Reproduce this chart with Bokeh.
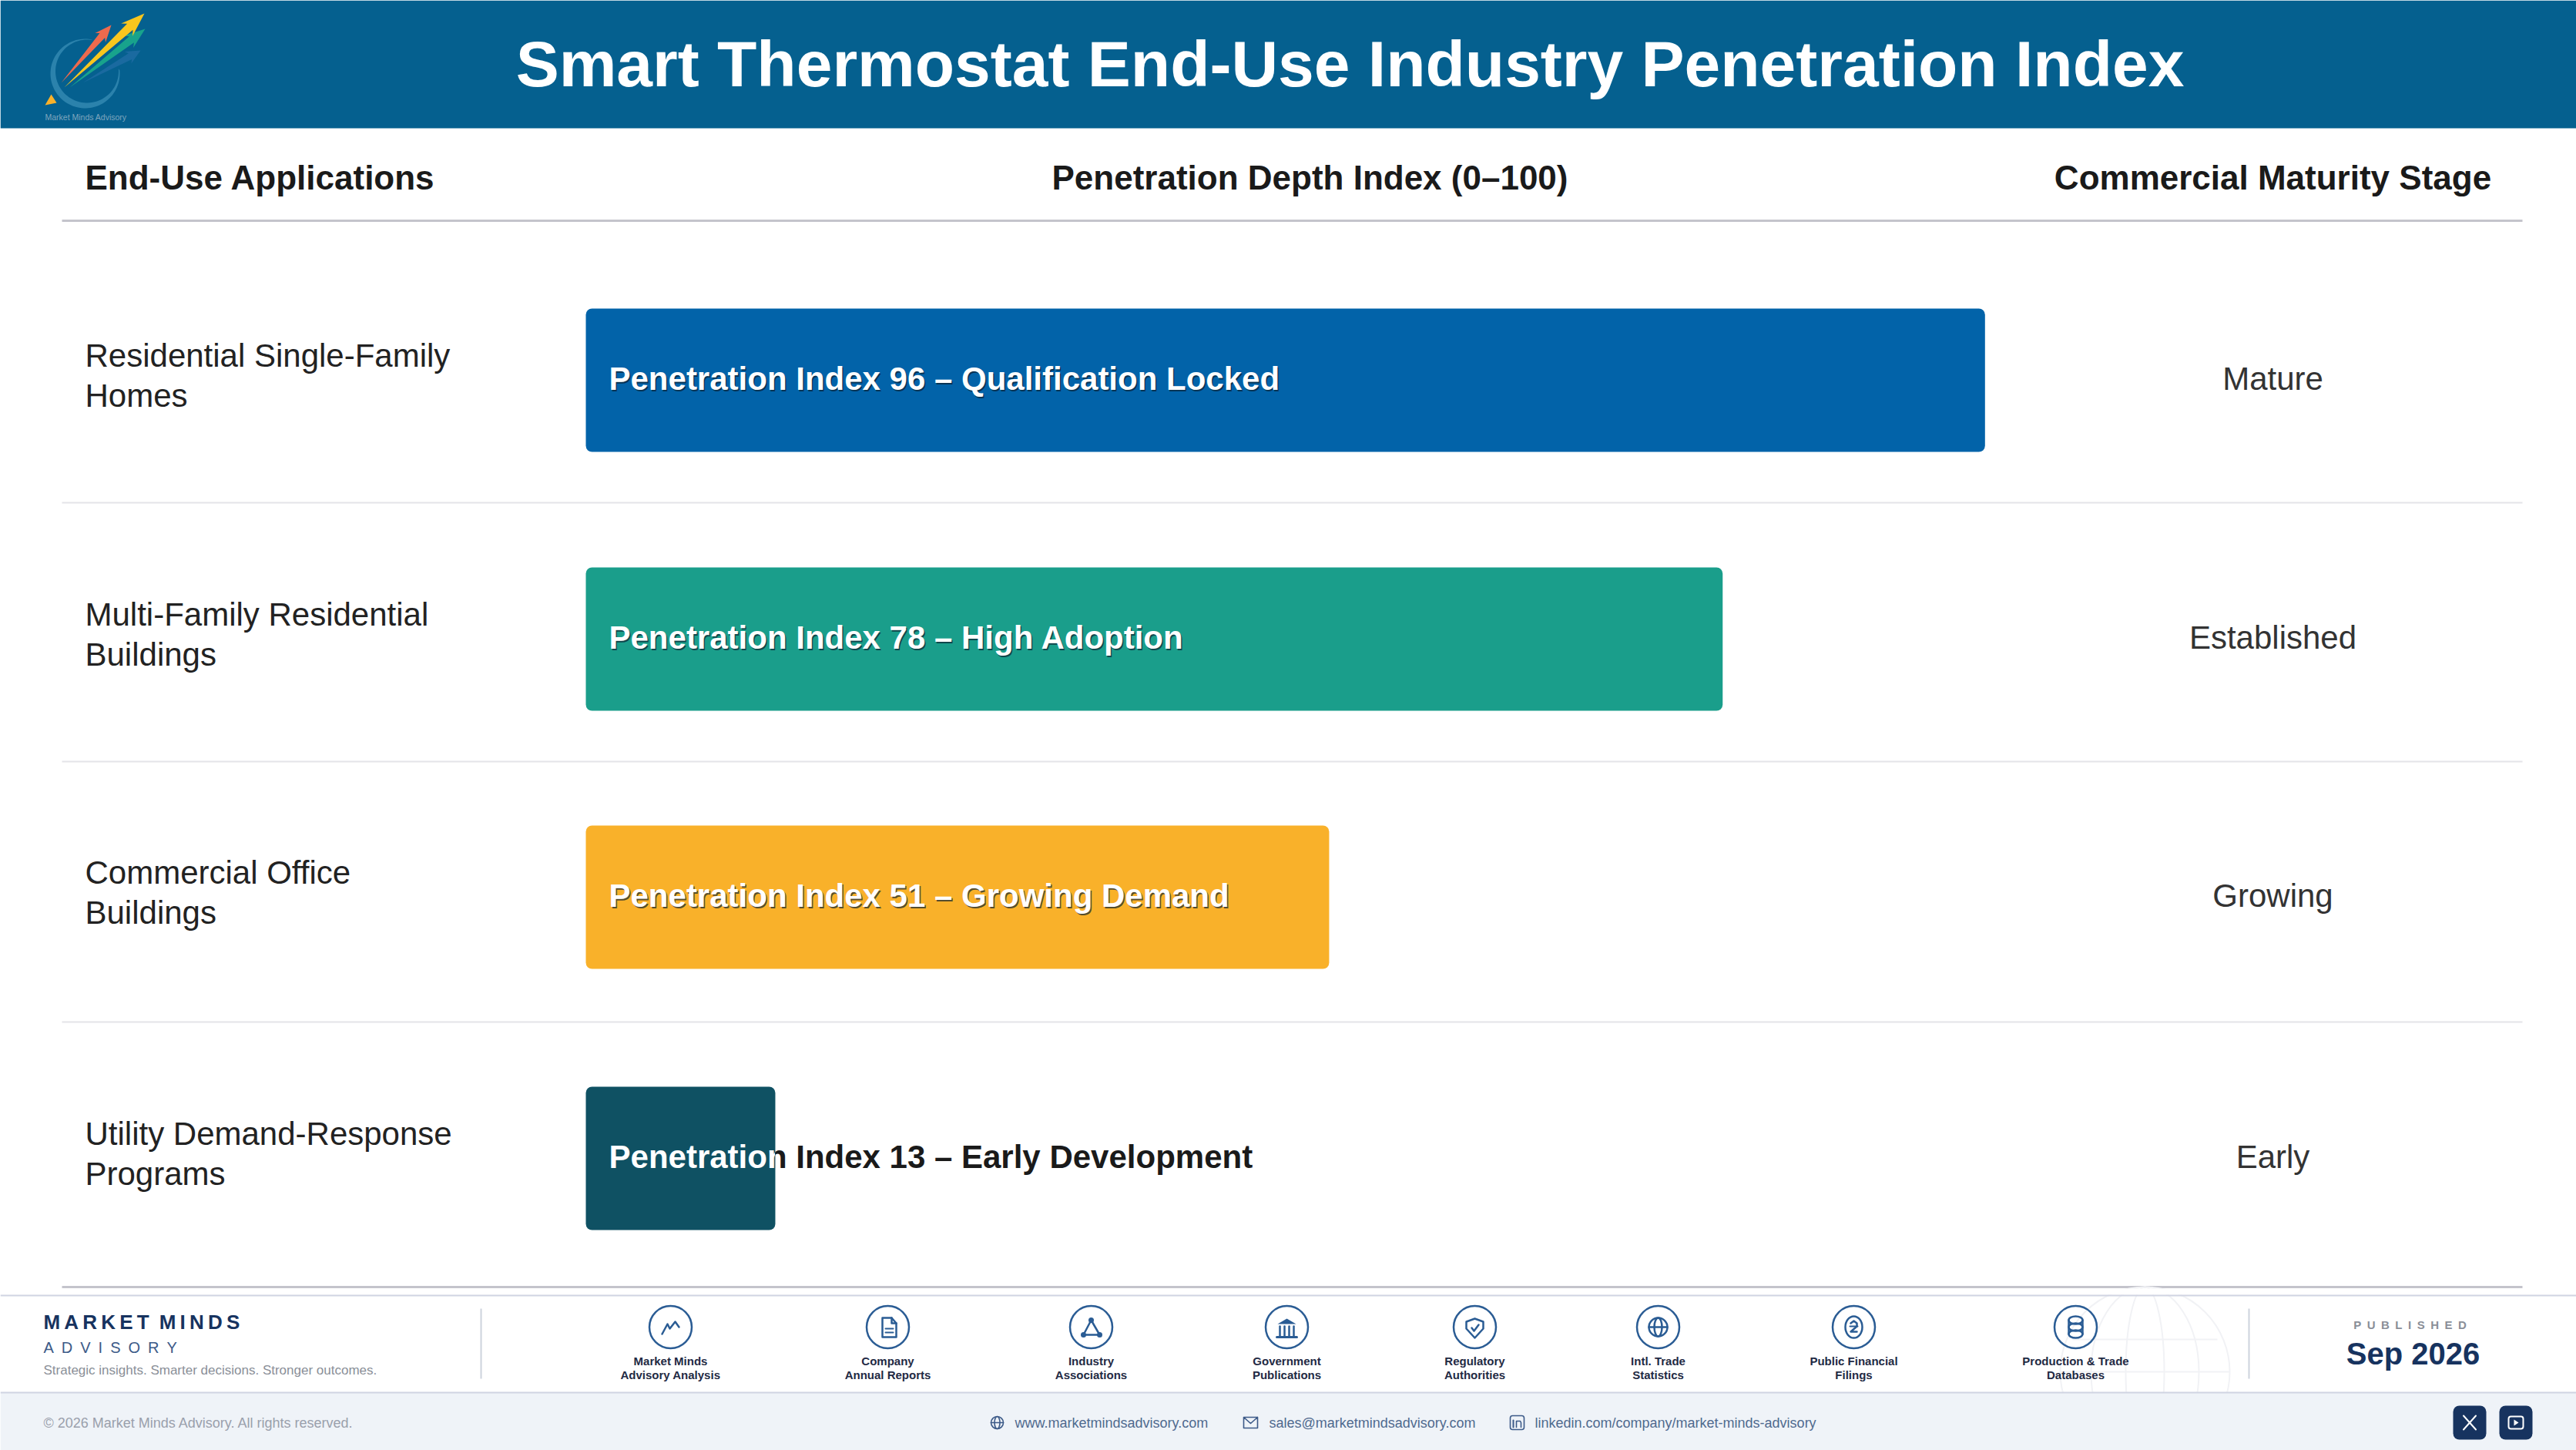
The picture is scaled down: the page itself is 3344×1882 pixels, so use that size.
import numpy as np
from bokeh.core.properties import value
from bokeh.embed import file_html
from bokeh.layouts import column
from bokeh.models import Range1d
from bokeh.plotting import figure
from bokeh.resources import INLINE

W, H = 3344, 1882

# chart values
applications = [["Residential Single-Family", "Homes"], ["Multi-Family Residential", "Buildings"],
                ["Commercial Office", "Buildings"], ["Utility Demand-Response", "Programs"]]
index_values = [96, 78, 51, 13]
index_notes = ["Qualification Locked", "High Adoption", "Growing Demand", "Early Development"]
stages = ["Mature", "Established", "Growing", "Early"]
bar_colors = ["#0263A9", "#1A9E8B", "#F9B12A", "#0F5163"]
columns_titles = ["End-Use Applications", "Penetration Depth Index (0–100)", "Commercial Maturity Stage"]
sources = [["Market Minds", "Advisory Analysis"], ["Company", "Annual Reports"], ["Industry", "Associations"],
           ["Government", "Publications"], ["Regulatory", "Authorities"], ["Intl. Trade", "Statistics"],
           ["Public Financial", "Filings"], ["Production & Trade", "Databases"]]
contacts = ["www.marketmindsadvisory.com", "sales@marketmindsadvisory.com", "linkedin.com/company/market-minds-advisory"]

FONT = value("Liberation Sans")
NAVY = "#17335F"
ICON = "#2A5C94"

# the index axis: 0 sits at the left of the bars, 18.92 page px per index point
X0, PX = 760, 18.92
row_y = [493, 829, 1164, 1503]
bar_h = 186

p = figure(width=W, height=H, x_range=Range1d(0, W), y_range=Range1d(H, 0), output_backend="svg",
           toolbar_location=None, min_border=0, outline_line_color=None, x_axis_location=None, y_axis_location=None)
p.grid.visible = False
p.extra_x_ranges["index"] = Range1d(-X0 / PX, (W - X0) / PX)


def txt(x, y, s, size, color="#222222", bold=False, align="left", fig=None, alpha=1.0):
    (fig or p).text([x], [y], text=[s], text_font=FONT, text_font_size=f"{size}px", text_color=color,
                    text_alpha=alpha, text_font_style="bold" if bold else "normal", text_align=align,
                    text_baseline="middle")


def hline(x0, x1, y, color, width):
    p.line([x0, x1], [y, y], line_color=color, line_width=width)


def path(cx, cy, pts, width=2.5, color=ICON):
    p.line([cx + a for a, _ in pts], [cy + b for _, b in pts], line_color=color, line_width=width,
           line_join="round", line_cap="round")


def oval(cx, cy, rx, ry, width=2.5, color=ICON):
    p.ellipse([cx], [cy], width=2 * rx, height=2 * ry, fill_color=None, line_color=color, line_width=width)


def arrow(tail, tip, w, color):
    t, h = np.array(tail, float), np.array(tip, float)
    u = h - t
    v = np.array([-u[1], u[0]]) / np.hypot(*u)
    pts = [t, t + .82 * u + v * w * .5, t + .78 * u + v * w, h, t + .78 * u - v * w, t + .82 * u - v * w * .5]
    p.patch([q[0] for q in pts], [q[1] for q in pts], fill_color=color, line_color=None)


# header band and logo
p.quad(left=0, right=W, top=0, bottom=166, fill_color="#05608F", line_color=None)
a = np.radians(np.linspace(80, 365, 80))
b = a[::-1]
p.patch(list(110 + 45 * np.cos(a)) + list(112.5 + 41 * np.cos(b)), list(95 - 45 * np.sin(a)) + list(92 - 41 * np.sin(b)),
        fill_color="#2B82AC", line_color=None)
arrow((107, 107), (182, 65), 9, "#1A6AA0")
arrow((90, 113), (188, 37), 10, "#18A38C")
arrow((79, 107), (144, 32), 9, "#EE6A4D")
arrow((83, 113), (187, 17), 11, "#F8C61E")
p.patch([58, 73, 66], [136, 133, 122], fill_color="#F9B12A", line_color=None)
txt(58, 151, "Market Minds Advisory", 10.5, color="#7FA6BE")
txt(1752, 82, "Smart Thermostat End-Use Industry Penetration Index", 84, color="#FFFFFF", bold=True, align="center")

# column heads and rules
txt(110, 230, columns_titles[0], 44, bold=True, color="#1A1A1A")
txt(1700, 230, columns_titles[1], 44, bold=True, color="#1A1A1A", align="center")
txt(2950, 230, columns_titles[2], 44, bold=True, color="#1A1A1A", align="center")
hline(80, 3274, 286, "#C4C4CC", 3)
for y in [652, 988, 1326]:
    hline(80, 3274, y, "#E4E4E8", 2)
hline(80, 3274, 1670, "#C4C4CC", 3)

# dark label sits under the bar, so only what runs past the bar stays dark
for y, v, note in zip(row_y, index_values, index_notes):
    if v < 30:
        txt(790, y - 2, f"Penetration Index {v} – {note}", 42, bold=True, color="#1A1A1A")

p.quad(left=[0] * 4, right=index_values, top=[y - bar_h / 2 for y in row_y], bottom=[y + bar_h / 2 for y in row_y],
       fill_color=bar_colors, line_color=None, border_radius=8, x_range_name="index")

for y, app, v, note, stage in zip(row_y, applications, index_values, index_notes, stages):
    txt(110, y - 32, app[0], 42)
    txt(110, y + 20, app[1], 42)
    txt(2950, y - 2, stage, 42, align="center", color="#333333")
    if v >= 30:
        txt(791.5, y - .5, f"Penetration Index {v} – {note}", 42, bold=True, color="#0B2030", alpha=.7)
        txt(790, y - 2, f"Penetration Index {v} – {note}", 42, bold=True, color="#FFFFFF")

# white part of the short bar's label, clipped to the bar by a small figure of its own
short = index_values.index(min(index_values))
short_right = X0 + index_values[short] * PX
clip = figure(width=round(short_right - X0), height=bar_h, x_range=Range1d(X0, short_right),
              y_range=Range1d(row_y[short] + bar_h / 2, row_y[short] - bar_h / 2), output_backend="svg",
              toolbar_location=None, min_border=0, outline_line_color=None, x_axis_location=None,
              y_axis_location=None, background_fill_color=None, border_fill_color=None)
clip.grid.visible = False
clip.styles = {"position": "absolute", "left": f"{X0}px", "top": f"{row_y[short] - bar_h // 2}px"}
txt(790, row_y[short] - 2, f"Penetration Index {index_values[short]} – {index_notes[short]}", 42, bold=True,
    color="#FFFFFF", fig=clip)

# footer
for r, ry in [(110, 110), (70, 110), (25, 110)]:
    oval(2784, 1780, r, ry, width=2, color="#F1F2F5")
hline(2674, 2894, 1780, "#F1F2F5", 2)
hline(2690, 2878, 1738, "#F1F2F5", 2)
p.quad(left=0, right=W, top=1807, bottom=H, fill_color="#EFF3F8", line_color=None)
p.quad(left=0, right=W, top=1672, bottom=1680, fill_color="#FFFFFF", line_color=None)
hline(0, W, 1681, "#D0D4E2", 2)
hline(0, W, 1807, "#D0D4E2", 2)
for x in [624, 2919]:
    p.line([x, x], [1698, 1789], line_color="#CDD3DC", line_width=2)

txt(56, 1715, "M\u2009A\u2009R\u2009K\u2009E\u2009T\u2002M\u2009I\u2009N\u2009D\u2009S", 26, color=NAVY, bold=True)
txt(56, 1748, "A\u2002D\u2002V\u2002I\u2002S\u2002O\u2002R\u2002Y", 20, color="#3C5A88")
txt(56, 1778, "Strategic insights. Smarter decisions. Stronger outcomes.", 17, color="#8A8F98")
txt(56, 1846, "© 2026 Market Minds Advisory. All rights reserved.", 18, color="#9AA0AC")
txt(3128, 1719, "P\u2002U\u2002B\u2002L\u2002I\u2002S\u2002H\u2002E\u2002D", 15, color="#8A8F98", bold=True, align="center")
txt(3132, 1756, "Sep 2026", 40, color=NAVY, bold=True, align="center")

icon_x = [870, 1152, 1416, 1670, 1914, 2152, 2406, 2694]
icon_y = 1722
for x, lab in zip(icon_x, sources):
    p.scatter([x], [icon_y], size=55, marker="circle", fill_color="#FFFFFF", fill_alpha=0, line_color=ICON, line_width=2.5)
    txt(x, 1765.5, lab[0], 15, color="#1F2A44", bold=True, align="center")
    txt(x, 1783.5, lab[1], 15, color="#1F2A44", bold=True, align="center")

x = icon_x[0]
path(x, icon_y, [(-11, 9), (-4, -4), (-1, 2), (6, -7), (11, 0)])
x = icon_x[1]
path(x, icon_y, [(-7, -12), (5, -12), (11, -5), (11, 13), (-7, 13), (-7, -12)])
path(x, icon_y, [(5, -12), (5, -5), (11, -5)])
path(x, icon_y, [(-3, 2), (7, 2)], width=2)
path(x, icon_y, [(-3, 7), (7, 7)], width=2)
x = icon_x[2]
path(x, icon_y, [(0, -9), (-10, 10), (11, 10), (0, -9)])
p.scatter([x, x - 10, x + 11], [icon_y - 9, icon_y + 10, icon_y + 10], size=7, fill_color=ICON, line_color=None)
x = icon_x[3]
p.patch([x - 12, x, x + 12], [icon_y - 4, icon_y - 11, icon_y - 4], fill_color=ICON, line_color=None)
for d in [-9, -3, 3, 9]:
    path(x, icon_y, [(d, -1), (d, 11)], width=2.5)
path(x, icon_y, [(-13, 13), (13, 13)], width=3)
x = icon_x[4]
path(x, icon_y, [(0, -11), (11, -7), (11, 2), (0, 14), (-11, 2), (-11, -7), (0, -11)])
path(x, icon_y, [(-4, 1), (-1, 5), (5, -3)])
x = icon_x[5]
oval(x, icon_y, 12, 12)
oval(x, icon_y, 5, 12)
path(x, icon_y, [(-12, 0), (12, 0)])
x = icon_x[6]
oval(x, icon_y, 11, 14)
path(x, icon_y, [(-4, -5), (0, -8), (4, -5), (4, -1), (-4, 6), (4, 6)])
path(x, icon_y, [(-5, -1), (5, -1)], width=2)
x = icon_x[7]
for d in [-9, 0, 9]:
    oval(x, icon_y + d, 9, 5)
path(x, icon_y, [(-9, -9), (-9, 9)])
path(x, icon_y, [(9, -9), (9, 9)])

# contact strip
cy = 1846
oval(1294, cy, 8, 8, width=1.6, color="#3C5A88")
oval(1294, cy, 3.5, 8, width=1.6, color="#3C5A88")
path(1294, cy, [(-8, 0), (8, 0)], width=1.6, color="#3C5A88")
path(1623, cy, [(-9, -7), (9, -7), (9, 7), (-9, 7), (-9, -7), (0, 1), (9, -7)], width=1.6, color="#3C5A88")
p.quad(left=1960, right=1978, top=cy - 9, bottom=cy + 9, fill_color=None, line_color="#3C5A88", line_width=1.6, border_radius=3)
path(1969, cy, [(-5, -3), (-5, 6)], width=2, color="#3C5A88")
path(1969, cy, [(-1, 6), (-1, -2), (4, -2), (5, 0), (5, 6)], width=1.6, color="#3C5A88")
for x, s in zip([1317, 1647, 1992], contacts):
    txt(x, cy, s, 18, color="#4F6A8F")

p.quad(left=[3184, 3244], right=[3227, 3287], top=1824, bottom=1868, fill_color=NAVY, line_color=None, border_radius=8)
path(3205.5, cy, [(-8, -9), (8, 9)], width=2, color="#FFFFFF")
path(3205.5, cy, [(8, -9), (-8, 9)], width=2, color="#FFFFFF")
p.quad(left=3256, right=3275, top=cy - 8, bottom=cy + 8, fill_color=None, line_color="#FFFFFF", line_width=2, border_radius=3)
p.patch([3263, 3269, 3263], [cy - 4, cy, cy + 4], fill_color="#FFFFFF", line_color=None)

page = column(p, clip)
open("out.html", "w").write(file_html(page, INLINE))
